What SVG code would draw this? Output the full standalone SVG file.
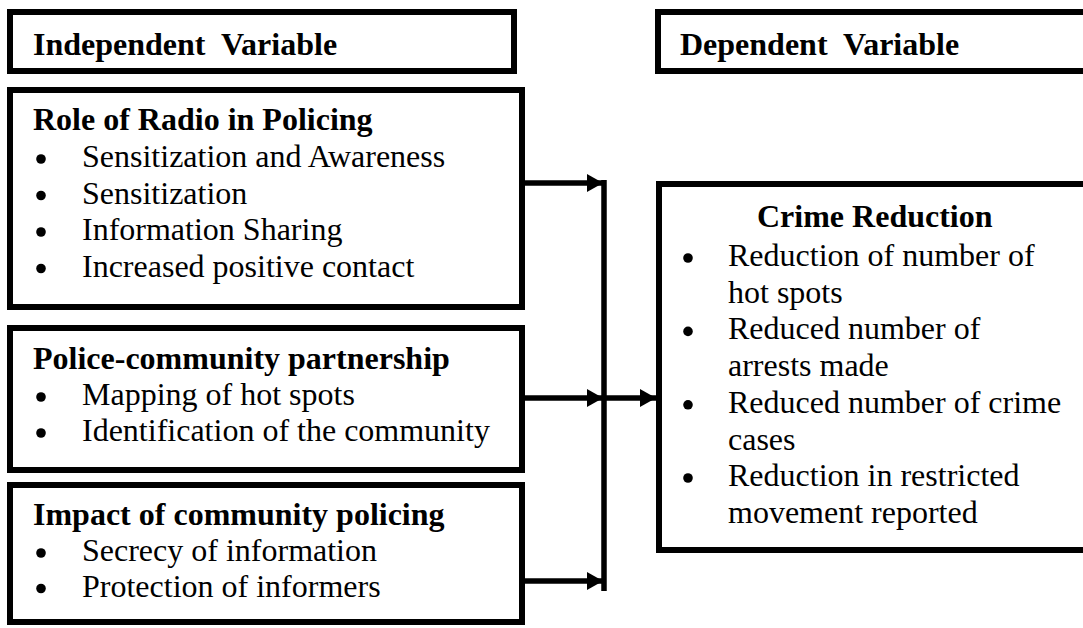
<svg xmlns="http://www.w3.org/2000/svg" width="1083" height="628" viewBox="0 0 1083 628">
<style>
.box{fill:#fff;stroke:#000;stroke-width:6}
.h{font-size:32px;font-weight:bold;fill:#000}
.t{font-size:32px;fill:#000}
.b{fill:#000}
.c{stroke:#000;stroke-width:5.5;fill:none}
</style>
<defs>
<marker id="ah" markerUnits="userSpaceOnUse" markerWidth="17" markerHeight="18" refX="16" refY="9" orient="auto">
<path d="M0,0 L16,9 L0,18 Z" fill="#000"/>
</marker>
</defs>
<rect width="1083" height="628" fill="#fff"/>
<g font-family="Liberation Serif, Tinos, Times New Roman, Times, serif">
<g id="header-independent">
<rect class="box" x="10" y="12" width="504" height="59"/>
<text class="h" x="33" y="55">Independent&#160; Variable</text>
</g>
<g id="header-dependent">
<rect class="box" x="658" y="12" width="500" height="59"/>
<text class="h" x="680" y="55">Dependent&#160; Variable</text>
</g>
<g id="role-of-radio">
<rect class="box" x="10" y="90" width="512" height="217"/>
<text class="h" x="33" y="130">Role of Radio in Policing</text>
<circle class="b" cx="41" cy="159" r="4.8"/>
<text class="t" x="82" y="167">Sensitization and Awareness</text>
<circle class="b" cx="41" cy="195.5" r="4.8"/>
<text class="t" x="82" y="203.5">Sensitization</text>
<circle class="b" cx="41" cy="232" r="4.8"/>
<text class="t" x="82" y="240">Information Sharing</text>
<circle class="b" cx="41" cy="268.5" r="4.8"/>
<text class="t" x="82" y="276.5">Increased positive contact</text>
</g>
<g id="police-community">
<rect class="box" x="10" y="328" width="512" height="142"/>
<text class="h" x="33" y="369">Police-community partnership</text>
<circle class="b" cx="41" cy="397" r="4.8"/>
<text class="t" x="82" y="405">Mapping of hot spots</text>
<circle class="b" cx="41" cy="433" r="4.8"/>
<text class="t" x="82" y="441">Identification of the community</text>
</g>
<g id="impact-community">
<rect class="box" x="10" y="485" width="512" height="137"/>
<text class="h" x="33" y="525">Impact of community policing</text>
<circle class="b" cx="41" cy="553" r="4.8"/>
<text class="t" x="82" y="561">Secrecy of information</text>
<circle class="b" cx="41" cy="588.5" r="4.8"/>
<text class="t" x="82" y="596.5">Protection of informers</text>
</g>
<g id="crime-reduction">
<rect class="box" x="659" y="184" width="500" height="366"/>
<text class="h" x="757" y="227">Crime Reduction</text>
<circle class="b" cx="688" cy="258" r="4.8"/>
<text class="t" x="728" y="266">Reduction of number of</text>
<text class="t" x="728" y="302.7">hot spots</text>
<circle class="b" cx="688" cy="331.4" r="4.8"/>
<text class="t" x="728" y="339.4">Reduced number of</text>
<text class="t" x="728" y="376">arrests made</text>
<circle class="b" cx="688" cy="404.8" r="4.8"/>
<text class="t" x="728" y="412.8">Reduced number of crime</text>
<text class="t" x="728" y="449.5">cases</text>
<circle class="b" cx="688" cy="478" r="4.8"/>
<text class="t" x="728" y="486">Reduction in restricted</text>
<text class="t" x="728" y="523">movement reported</text>
</g>
</g>
<g id="connectors">
<line class="c" x1="525" y1="183" x2="603" y2="183" marker-end="url(#ah)"/>
<line class="c" x1="525" y1="398" x2="603" y2="398" marker-end="url(#ah)"/>
<line class="c" x1="525" y1="581" x2="603" y2="581" marker-end="url(#ah)"/>
<line class="c" x1="604" y1="180" x2="604" y2="591"/>
<line class="c" x1="606" y1="398" x2="656" y2="398" marker-end="url(#ah)"/>
</g>
</svg>
